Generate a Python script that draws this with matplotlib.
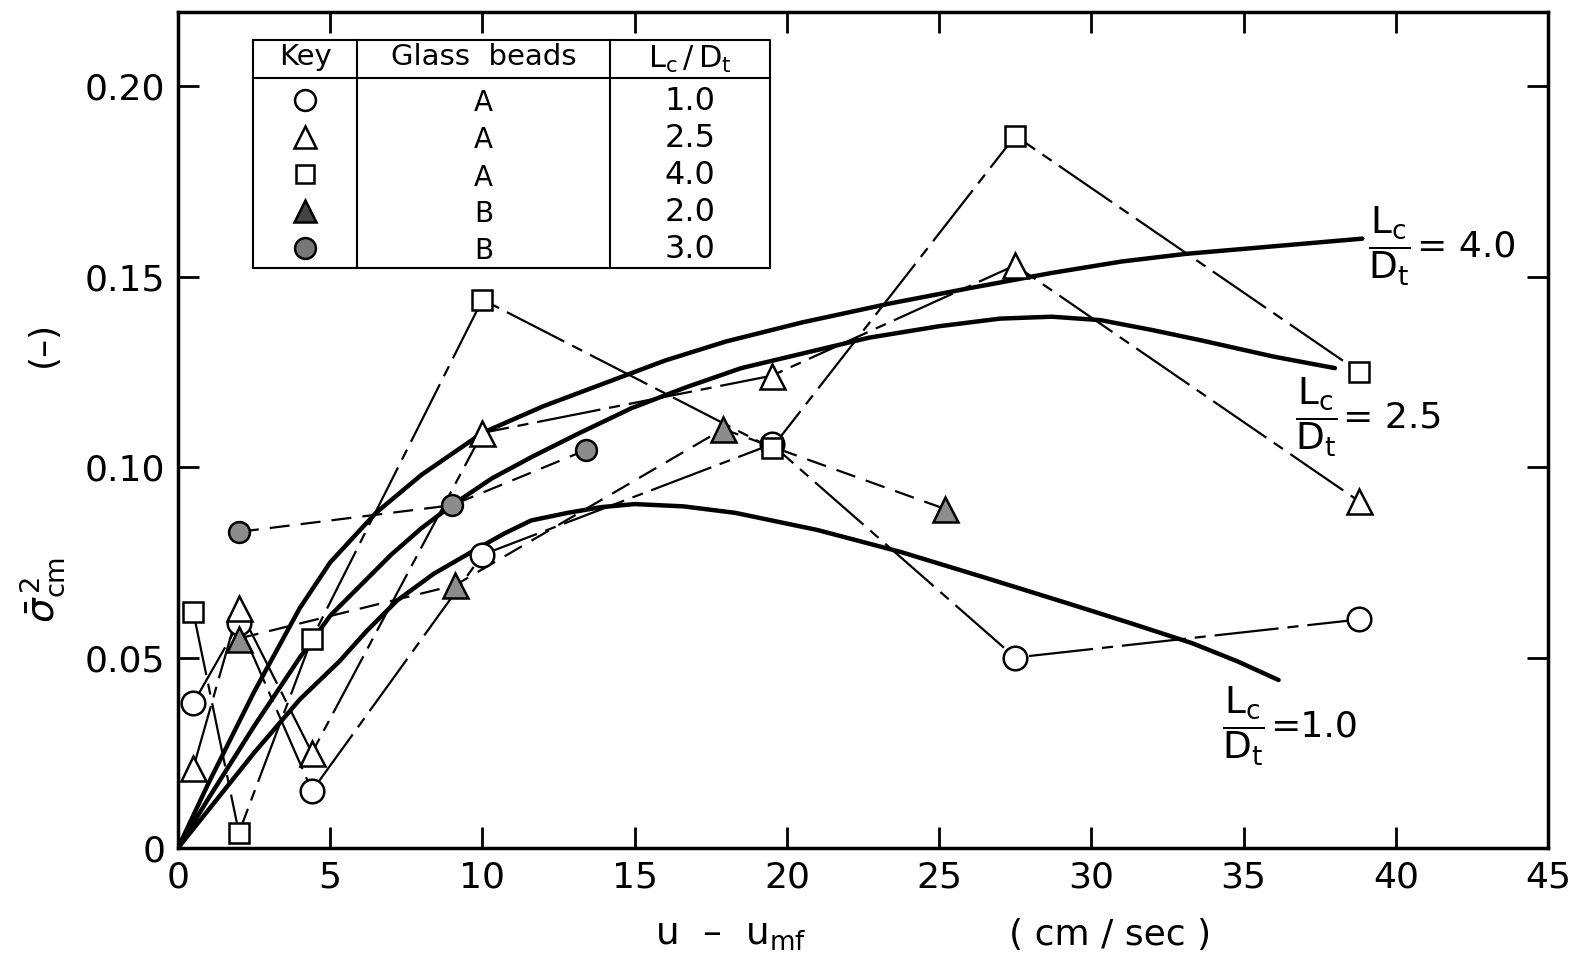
import numpy as np
import matplotlib.pyplot as plt

plt.rcParams['font.family'] = ['DejaVu Sans']
plt.rcParams['mathtext.fontset'] = 'dejavusans'

# glass beads A, measured points
u_A = [0.5, 2.0, 4.4, 10.0, 19.5, 27.5, 38.8]
sig_A10 = [0.038, 0.059, 0.015, 0.077, 0.106, 0.050, 0.060]   # Lc/Dt = 1.0
sig_A25 = [0.021, 0.063, 0.025, 0.109, 0.124, 0.153, 0.091]   # Lc/Dt = 2.5
sig_A40 = [0.062, 0.004, 0.055, 0.144, 0.105, 0.187, 0.125]   # Lc/Dt = 4.0

# glass beads B
u_B20 = [2.0, 9.1, 17.9, 25.2]
sig_B20 = [0.055, 0.069, 0.110, 0.089]                        # Lc/Dt = 2.0
u_B30 = [2.0, 9.0, 13.4]
sig_B30 = [0.083, 0.090, 0.1045]                              # Lc/Dt = 3.0

# smoothed curves
c40_u = [0, 1, 2.5, 4, 5, 6.5, 8, 10, 12, 14, 16, 18, 20.5, 23.4, 26, 28.7, 31, 33.1, 36, 38.9]
c40_s = [0, 0.017, 0.041, 0.063, 0.075, 0.088, 0.098, 0.109, 0.116, 0.122, 0.128, 0.133,
         0.138, 0.143, 0.147, 0.151, 0.154, 0.156, 0.158, 0.160]
c25_u = [0, 1, 2.5, 4, 5, 6, 7, 8, 9, 10.3, 11.6, 13.2, 14.9, 16.7, 18.5, 20.6, 22.7, 25,
         27, 28.7, 30.3, 32, 33.6, 36, 38]
c25_s = [0, 0.013, 0.032, 0.050, 0.061, 0.069, 0.077, 0.084, 0.090, 0.097, 0.1026, 0.109,
         0.1155, 0.121, 0.126, 0.130, 0.134, 0.137, 0.139, 0.1395, 0.1386, 0.136, 0.1333,
         0.129, 0.126]
c10_u = [0, 1, 2.5, 4, 5.3, 6.2, 7.2, 8.4, 9.7, 10.7, 11.6, 12.8, 13.9, 15, 16.6, 18.3, 21,
         23.75, 26.5, 29.2, 31.3, 33.3, 34.8, 36.15]
c10_s = [0, 0.010, 0.025, 0.039, 0.049, 0.057, 0.065, 0.072, 0.078, 0.0825, 0.086, 0.088,
         0.0895, 0.0903, 0.0897, 0.088, 0.0835, 0.0777, 0.071, 0.0643, 0.059, 0.0538,
         0.049, 0.0441]

xticks = [0, 5, 10, 15, 20, 25, 30, 35, 40, 45]
yticks = [0, 0.05, 0.10, 0.15, 0.20]
ylabels = ['0', '0.05', '0.10', '0.15', '0.20']

fig = plt.figure(figsize=(15.74, 9.56), dpi=100)
ax = fig.add_axes([0.1131, 0.113, 0.8704, 0.8744])

dashdot = (0, (29, 4, 5, 4))
dashed = (0, (9, 5))
grey = '#8c8c8c'

for c_u, c_s in [(c40_u, c40_s), (c25_u, c25_s), (c10_u, c10_s)]:
    ax.plot(c_u, c_s, color='black', lw=3.2, solid_capstyle='round',
            solid_joinstyle='round', zorder=2)

ax.plot(u_A, sig_A10, color='black', lw=1.6, ls=dashdot, zorder=3)
ax.plot(u_A, sig_A25, color='black', lw=1.6, ls=dashdot, zorder=3)
ax.plot(u_A, sig_A40, color='black', lw=1.6, ls=dashdot, zorder=3)
ax.plot(u_B20, sig_B20, color='black', lw=1.6, ls=dashed, zorder=3)
ax.plot(u_B30, sig_B30, color='black', lw=1.6, ls=dashed, zorder=3)

mk = dict(ls='none', mec='black', mew=1.8, zorder=5)
ax.plot(u_A, sig_A10, marker='o', ms=17, mfc='white', **mk)
ax.plot(u_A, sig_A25, marker='^', ms=18, mfc='white', **mk)
ax.plot(u_A, sig_A40, marker='s', ms=15, mfc='white', **mk)
ax.plot(u_B20, sig_B20, marker='^', ms=18, mfc=grey, **mk)
ax.plot(u_B30, sig_B30, marker='o', ms=15, mfc=grey, **mk)

ax.set_xlim(0, 45)
ax.set_ylim(0, 0.2195)
ax.set_xticks(xticks)
ax.set_yticks(yticks)
ax.set_yticklabels(ylabels)
ax.tick_params(direction='in', length=15, width=2, top=True, right=True,
               labelsize=26, pad=9)
for sp in ax.spines.values():
    sp.set_linewidth(2.5)

# curve labels
frac = r'$\dfrac{\mathregular{L_c}}{\mathregular{D_t}}$'
for fx, fy, txt in [(39.1, 0.158, '= 4.0'), (36.7, 0.113, '= 2.5'), (34.3, 0.032, '=1.0')]:
    t = ax.text(fx, fy, frac, fontsize=27, ha='left', va='center')
    ax.annotate(txt, xy=(1, 0.5), xycoords=t, xytext=(4, 0), textcoords='offset points',
                fontsize=26, ha='left', va='center')

# key table
tl, tr, c1, c2 = 0.0547, 0.432, 0.131, 0.315
tt, tb, th = 0.9665, 0.694, 0.921
tk = dict(transform=ax.transAxes, color='black', lw=1.5, zorder=6)
ax.plot([tl, tr, tr, tl, tl], [tt, tt, tb, tb, tt], **tk)
ax.plot([tl, tr], [th, th], **tk)
ax.plot([c1, c1], [tt, tb], **tk)
ax.plot([c2, c2], [tt, tb], **tk)
ax.text(0.0927, 0.946, 'Key', transform=ax.transAxes, fontsize=21, ha='center', va='center')
ax.text(0.223, 0.946, 'Glass  beads', transform=ax.transAxes, fontsize=21, ha='center',
        va='center')
ax.text(0.3735, 0.943, r'$\mathregular{L_c\,/\,D_t}$', transform=ax.transAxes, fontsize=22,
        ha='center', va='center')

key_rows = [0.895, 0.851, 0.806, 0.762, 0.718]
key_mk = [('o', 'white', 15), ('^', 'white', 16), ('s', 'white', 13), ('^', '#444444', 16),
          ('o', '#777777', 15)]
key_bead = ['A', 'A', 'A', 'B', 'B']
key_ratio = ['1.0', '2.5', '4.0', '2.0', '3.0']
for yy, (m, fc, s), b, r in zip(key_rows, key_mk, key_bead, key_ratio):
    ax.plot([0.0927], [yy], marker=m, ms=s, mfc=fc, mec='black', mew=1.8,
            transform=ax.transAxes, zorder=7)
    ax.text(0.223, yy - 0.004, b, transform=ax.transAxes, fontsize=20, ha='center',
            va='center')
    ax.text(0.3735, yy - 0.002, r, transform=ax.transAxes, fontsize=23, ha='center',
            va='center')

# axis labels
fig.text(0.027, 0.383, r'$\bar{\sigma}^{\,2}_{\mathregular{cm}}$', rotation=90, fontsize=28,
         ha='center', va='center')
fig.text(0.027, 0.64, '(–)', rotation=90, fontsize=26, ha='center', va='center')
fig.text(0.464, 0.022, r'u  –  $\mathregular{u_{mf}}$', fontsize=27, ha='center', va='center')
fig.text(0.705, 0.022, '( cm / sec )', fontsize=26, ha='center', va='center')

fig.savefig('out.png', dpi=100)
